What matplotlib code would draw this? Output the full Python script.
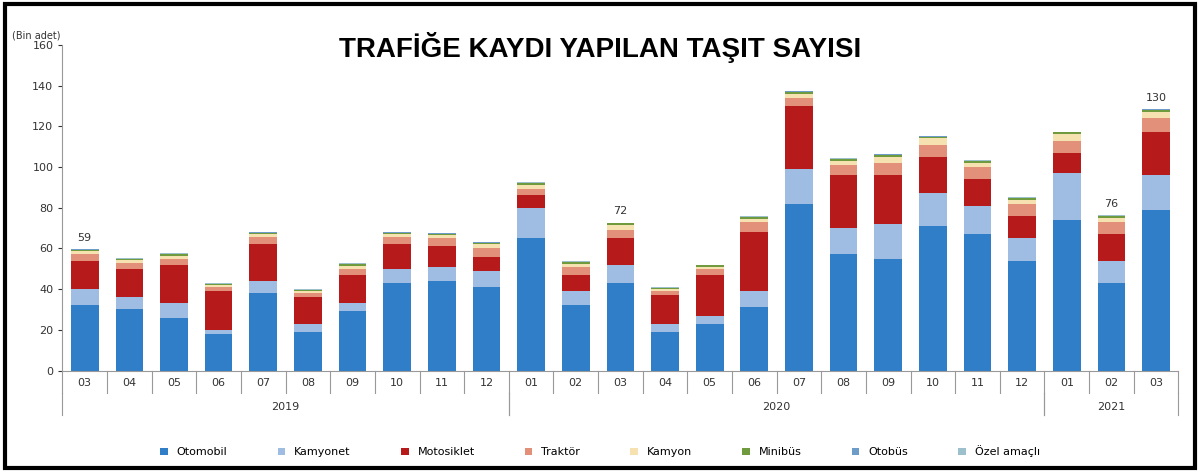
import matplotlib
matplotlib.use("Agg")
import matplotlib.pyplot as plt
import numpy as np

months = ["03","04","05","06","07","08","09","10","11","12",
          "01","02","03","04","05","06","07","08","09","10","11","12",
          "01","02","03"]
years = [("2019", 0, 10), ("2020", 10, 22), ("2021", 22, 25)]
series = ["Otomobil", "Kamyonet", "Motosiklet", "Traktör", "Kamyon", "Minibüs", "Otobüs", "Özel amaçlı"]
otomobil   = [32,30,26,18,38,19,29,43,44,41,65,32,43,19,23,31,82,57,55,71,67,54,74,43,79]
kamyonet   = [8,6,7,2,6,4,4,7,7,8,15,7,9,4,4,8,17,13,17,16,14,11,23,11,17]
motosiklet = [14,14,19,19,18,13,14,12,10,7,6,8,13,14,20,29,31,26,24,18,13,11,10,13,21]
traktor    = [3,3,3,2,3.5,2,3,3.5,4,4,3,4,4,2,3,5,4,5,6,6,6,6,6,6,7]
kamyon     = [1.5,1.2,1.5,1,1.5,1,1.5,1.5,1.5,2,2,1.5,2.5,1,1,1.5,2,2,3,3,2,2,3,2,3]
minibus    = [0.8,0.6,0.7,0.5,0.8,0.5,0.7,0.8,0.8,0.8,1,0.7,0.8,0.5,0.6,0.8,1,0.8,1,0.8,0.8,0.8,1,0.8,1.2]
otobus     = [0.2]*25
ozel       = [0.2]*25
labels = {0: "59", 12: "72", 23: "76", 24: "130"}

data = [otomobil, kamyonet, motosiklet, traktor, kamyon, minibus, otobus, ozel]
colors = ["#2f7ec7", "#9fbde3", "#b71a1a", "#e3907a", "#f6e1b0", "#6f9a3d", "#6d9cc9", "#9cc1cc"]

fig = plt.figure(figsize=(12, 4.72), dpi=100)
ax = fig.add_axes([0.052, 0.215, 0.93, 0.69])
x = np.arange(len(months))
bottom = np.zeros(len(months))
handles = []
for name, vals, c in zip(series, data, colors):
    v = np.array(vals, dtype=float)
    h = ax.bar(x, v, 0.62, bottom=bottom, color=c, label=name)
    handles.append(h)
    bottom += v
for i, t in labels.items():
    ax.text(x[i], bottom[i] + 3, t, ha="center", va="bottom", fontsize=8, color="#333")

ax.set_ylim(0, 160)
ax.set_yticks(range(0, 161, 20))
ax.set_xlim(-0.5, len(months) - 0.5)
ax.set_xticks([])
ax.tick_params(axis="y", labelsize=8, colors="#333", length=3)
for s in ["top", "right"]:
    ax.spines[s].set_visible(False)
ax.spines["left"].set_color("#999")
ax.spines["bottom"].set_color("#999")
ax.text(-0.045, 1.02, "(Bin adet)", transform=ax.transAxes, fontsize=7, color="#333")

for i, m in enumerate(months):
    ax.text(i, -6, m, ha="center", va="center", fontsize=8, color="#333")
for i in range(len(months) + 1):
    ax.plot([i - 0.5, i - 0.5], [0, -11], color="#999", lw=0.8, clip_on=False)
for name, a, b in years:
    ax.plot([a - 0.5, a - 0.5], [-11, -22], color="#999", lw=0.8, clip_on=False)
    ax.plot([b - 0.5, b - 0.5], [-11, -22], color="#999", lw=0.8, clip_on=False)
    ax.text((a + b - 1) / 2, -18, name, ha="center", va="center", fontsize=8, color="#333")

fig.text(0.5, 0.88, "TRAFİĞE KAYDI YAPILAN TAŞIT SAYISI", ha="center", fontsize=20,
         fontweight="bold", family="Liberation Sans")
fig.legend(handles=handles, loc="lower center", ncol=8, frameon=False, fontsize=8,
           bbox_to_anchor=(0.5, 0.01), handlelength=0.7, handleheight=0.7, columnspacing=4.5)
fig.patches.append(plt.Rectangle((0.004, 0.008), 0.992, 0.984, transform=fig.transFigure,
                                 fill=False, edgecolor="black", lw=3))
fig.savefig("out.png", dpi=100)
